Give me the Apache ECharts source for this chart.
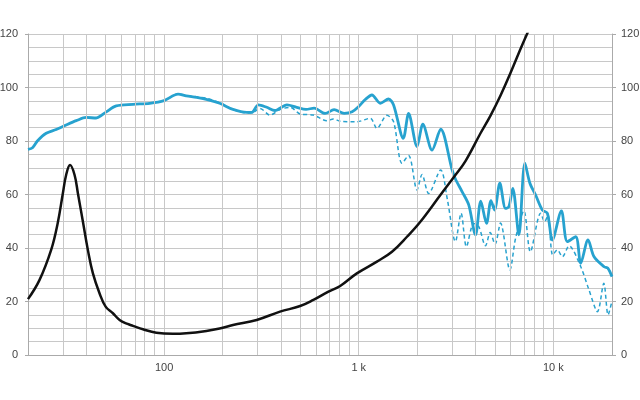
<!DOCTYPE html>
<html>
<head>
<meta charset="utf-8">
<script src="https://cdn.jsdelivr.net/npm/echarts@6/dist/echarts.min.js"></script>
<style>html,body{margin:0;padding:0;background:#fff}#c{width:640px;height:400px}</style>
</head>
<body>
<div id="c"></div>
<script>
// On-axis SPL (solid blue)
const splFreq = [20,21.1,22.4,24.8,27.9,31.4,35.4,39.8,44.8,50.5,56.8,69.2,84.4,100,118,130,147,165,193,226,266,282,305,337,371,428,480,536,590,672,747,842,925,997,1080,1169,1290,1423,1510,1694,1804,1993,2135,2381,2636,3018,3138,3400,3674,3979,4236,4533,4780,4983,5307,5678,5905,6184,6647,7137,7576,8102,8773,9310,9876,10990,11800,13020,13820,15060,16180,18210,19030,20000];
const splVals = [76.9,77.5,80.1,82.9,84.3,86.0,87.6,88.8,88.6,90.9,93.1,93.7,94.1,95.1,97.5,96.9,96.3,95.6,94.1,91.8,90.7,90.7,93.5,92.6,91.4,93.5,92.6,91.8,92.3,90.3,91.7,90.3,90.9,92.8,95.5,97.2,94.1,95.7,93.5,81.0,90.3,77.9,86.3,76.6,84.4,69.2,65.8,61.0,56.1,44.9,57.5,49.2,57.7,54.2,64.2,54.8,55.4,62.3,44.9,71.7,64.2,59.8,54.2,53.0,43.0,53.9,42.4,44.2,34.3,43.0,36.7,33.0,32.5,29.3];

// Off-axis SPL (dashed blue)
const offFreq = [20,21.1,22.4,24.8,27.9,31.4,35.4,39.8,44.8,50.5,56.8,69.2,84.4,100,118,130,147,165,193,226,266,282,311,350,394,444,500,585,685,741,803,978,1146,1240,1396,1510,1668,1804,1993,2114,2287,2636,2855,3138,3357,3575,3899,4137,4480,4737,5013,5350,5976,6392,7054,7612,8598,9016,9376,9913,10480,11120,12030,13820,15240,16840,18150,19100,20000];
const offVals = [76.9,77.5,80.1,82.9,84.3,86.0,87.6,88.8,88.6,90.9,93.1,93.7,94.1,95.1,97.6,97.0,96.5,96.0,94.3,91.8,90.5,90.5,92.2,89.7,91.8,92.6,90.1,89.7,87.6,88.2,87.4,87.2,88.5,84.7,89.6,87.2,71.7,74.6,61.7,67.5,60.4,69.2,58.0,42.4,53.0,40.5,49.2,48.0,40.8,45.8,41.4,49.3,31.8,43.6,53.9,38.6,53.0,49.8,52.3,37.4,39.3,36.7,40.8,33.0,24.3,16.2,26.8,15.0,20.3];

// Impedance (black)
const impFreq = [20,22.9,26.3,28.4,30.2,31.4,32.9,34.7,36.1,38.3,40.6,43.1,46.6,50.1,54.6,59.1,65,69.2,77.9,91.3,111,130,165,193,226,299,394,500,585,699,803,978,1240,1482,1770,2073,2627,3138,3534,4222,4753,5350,6026,6783,7369,8100];
const impVals = [20.9,28,39.3,49.2,60.4,67.3,71.0,67.3,60.4,49.8,39.3,30.5,23.1,18.1,15.6,13.1,11.6,10.9,9.6,8.3,7.9,8.1,9.0,9.9,11.2,13.1,16.2,18.3,20.6,23.7,25.8,30.5,34.9,38.6,44.2,49.8,59.8,67.3,72.5,82.9,89.5,97.0,105.5,114.5,120.5,127];

// Axes
const freqMin = 20, freqMax = 20000;
const gridFreqs = [30,40,50,60,70,80,90,100,200,300,400,500,600,700,800,900,1000,2000,3000,4000,5000,6000,7000,8000,9000,10000];
const xTickFreqs = [100, 1000, 10000];
const xTickLabels = ['100', '1 k', '10 k'];
const yMin = 0, yMax = 120, yLabelStep = 20;

const L = f => Math.log10(f);
const toData = (fs, vs) => fs.map((f, i) => [L(f), vs[i]]);

const gridColor = '#c8c8c8';
const blue = '#27a2cf';
const textStyle = {color: '#444', fontSize: 11, fontFamily: 'Liberation Sans, Arial, sans-serif'};

const chart = echarts.init(document.getElementById('c'), null, {renderer: 'canvas'});
chart.setOption({
  animation: false,
  backgroundColor: '#fff',
  grid: {left: 28, right: 28, top: 34, bottom: 45, containLabel: false, outerBoundsMode: 'none'},
  xAxis: {
    type: 'value', min: L(freqMin), max: L(freqMax),
    axisLine: {show: true, lineStyle: {color: '#aaa', width: 1}},
    axisTick: {show: false},
    splitLine: {show: false},
    axisLabel: Object.assign({
      customValues: xTickFreqs.map(L),
      margin: 7,
      formatter: v => { const i = xTickFreqs.findIndex(f => Math.abs(L(f) - v) < 1e-6); return i >= 0 ? xTickLabels[i] : ''; }
    }, textStyle)
  },
  yAxis: [
    {
      type: 'value', position: 'left', min: yMin, max: yMax, interval: yLabelStep,
      axisLine: {show: true, lineStyle: {color: '#aaa', width: 1}},
      axisTick: {show: true, length: 3, lineStyle: {color: '#aaa'}},
      axisLabel: Object.assign({margin: 10}, textStyle),
      splitLine: {show: true, lineStyle: {color: gridColor, width: 1}},
      minorTick: {show: false, splitNumber: 4},
      minorSplitLine: {show: true, lineStyle: {color: gridColor, width: 1}}
    },
    {
      type: 'value', position: 'right', min: yMin, max: yMax, interval: yLabelStep,
      axisLine: {show: true, lineStyle: {color: '#aaa', width: 1}},
      axisTick: {show: true, length: 4, lineStyle: {color: '#aaa'}},
      axisLabel: Object.assign({margin: 9}, textStyle),
      splitLine: {show: false}
    }
  ],
  series: [
    {
      type: 'line', data: [], z: 1, silent: true,
      markLine: {
        silent: true, symbol: ['none', 'none'], animation: false,
        label: {show: false},
        lineStyle: {color: gridColor, width: 1, type: 'solid'},
        emphasis: {disabled: true},
        data: gridFreqs.map(f => ({xAxis: L(f)}))
      }
    },
    {
      name: 'off', type: 'line', data: toData(offFreq, offVals), showSymbol: false, smooth: 0.3, z: 3,
      lineStyle: {color: blue, width: 1.5, type: [4, 3]}
    },
    {
      name: 'spl', type: 'line', data: toData(splFreq, splVals), showSymbol: false, smooth: 0.3, z: 4,
      lineStyle: {color: blue, width: 2.8}
    },
    {
      name: 'imp', type: 'line', data: toData(impFreq, impVals), showSymbol: false, smooth: 0.4, z: 5,
      lineStyle: {color: '#111', width: 2.5}
    }
  ]
});
</script>
</body>
</html>
